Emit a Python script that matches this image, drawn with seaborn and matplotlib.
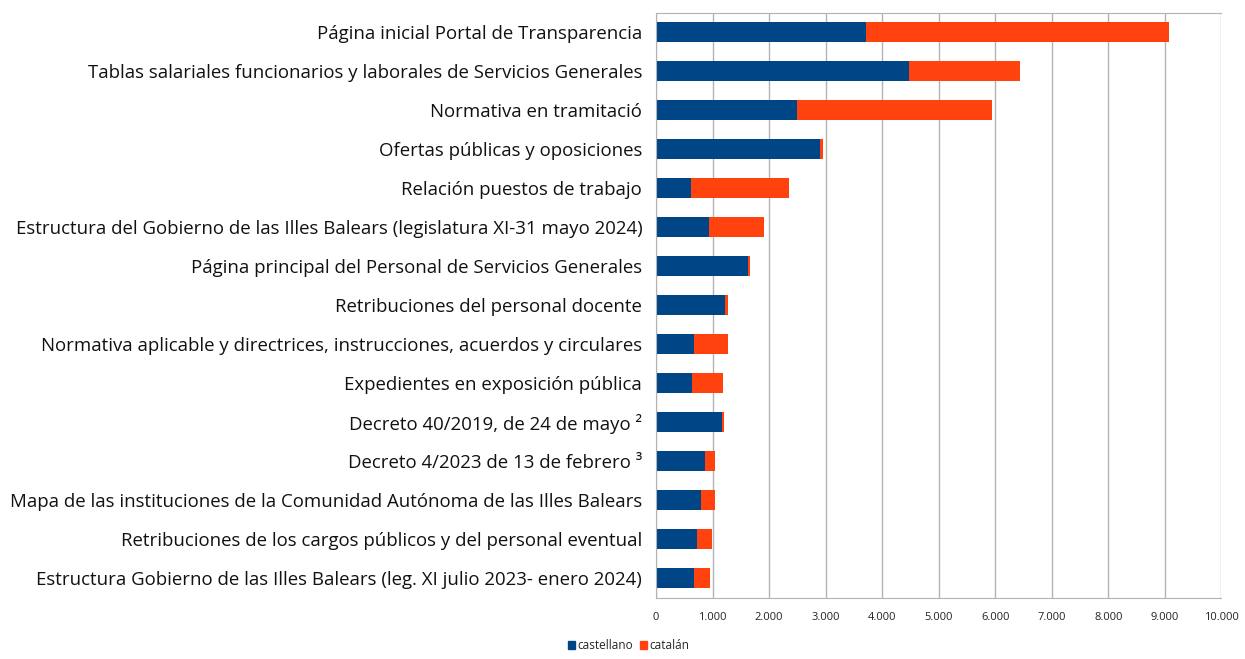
import matplotlib
matplotlib.use("Agg")
import matplotlib.pyplot as plt
import numpy as np
import pandas as pd
import seaborn as sns
from matplotlib.patches import Patch
from matplotlib.ticker import FuncFormatter, FixedLocator

categories = [
    "Página inicial Portal de Transparencia",
    "Tablas salariales funcionarios y laborales de Servicios Generales",
    "Normativa en tramitació",
    "Ofertas públicas y oposiciones",
    "Relación puestos de trabajo",
    "Estructura del Gobierno de las Illes Balears (legislatura XI-31 mayo 2024)",
    "Página principal del Personal de Servicios Generales",
    "Retribuciones del personal docente",
    "Normativa aplicable y directrices, instrucciones, acuerdos y circulares",
    "Expedientes en exposición pública",
    "Decreto 40/2019, de 24 de mayo ²",
    "Decreto 4/2023 de 13 de febrero ³",
    "Mapa de las instituciones de la Comunidad Autónoma de las Illes Balears",
    "Retribuciones de los cargos públicos y del personal eventual",
    "Estructura Gobierno de las Illes Balears (leg. XI julio 2023- enero 2024)",
]
castellano = [3710, 4470, 2500, 2900, 620, 930, 1620, 1225, 670, 640, 1165, 870, 800, 720, 670]
catalan = [5365, 1960, 3450, 45, 1730, 970, 45, 45, 595, 550, 35, 170, 240, 265, 290]

BLUE = "#004586"
ORANGE = "#ff420e"

df = pd.DataFrame({"pagina": categories, "castellano": castellano, "catalan": catalan})
df["total"] = df["castellano"] + df["catalan"]

sns.set_style("white")
plt.rcParams["font.family"] = ["Open Sans", "DejaVu Sans"]

fig = plt.figure(figsize=(12.45, 6.59), dpi=100)
ax = fig.add_axes([0.527, 0.093, 0.454, 0.888])
ax.set_axisbelow(True)

# stacked look: total bar first, castellano drawn over it
sns.barplot(data=df, x="total", y="pagina", color=ORANGE, saturation=1, width=0.52,
            orient="h", linewidth=0, ax=ax)
sns.barplot(data=df, x="castellano", y="pagina", color=BLUE, saturation=1, width=0.52,
            orient="h", linewidth=0, ax=ax)

ax.set_xlim(0, 10000)
ax.set_ylim(len(categories) - 0.5, -0.5)
ax.set_xticks(np.arange(0, 10001, 1000))
ax.xaxis.set_major_formatter(FuncFormatter(lambda v, p: f"{int(v):,}".replace(",", ".")))
ax.grid(axis="x", color="#b3b3b3", linewidth=1)
ax.set_xlabel("")
ax.set_ylabel("")

for side in ["top", "right", "left", "bottom"]:
    ax.spines[side].set_color("#b3b3b3")
ax.spines["right"].set_visible(False)

ax.tick_params(axis="y", length=0, labelsize=13.4, pad=10, labelcolor="#111111")
ax.yaxis.set_minor_locator(FixedLocator(np.arange(-0.5, len(categories), 1)))
ax.tick_params(axis="y", which="minor", length=4, color="#b3b3b3", direction="out")
ax.tick_params(axis="x", length=4, color="#b3b3b3", labelsize=8, pad=6, labelcolor="#222222")

handles = [Patch(color=BLUE, label="castellano"), Patch(color=ORANGE, label="catalán")]
fig.legend(handles=handles, loc="lower center", bbox_to_anchor=(0.505, -0.006), ncol=2,
           frameon=False, fontsize=8.5, handlelength=0.6, handleheight=0.6,
           handletextpad=0.2, columnspacing=0.6)

fig.savefig("out.png", dpi=100)
